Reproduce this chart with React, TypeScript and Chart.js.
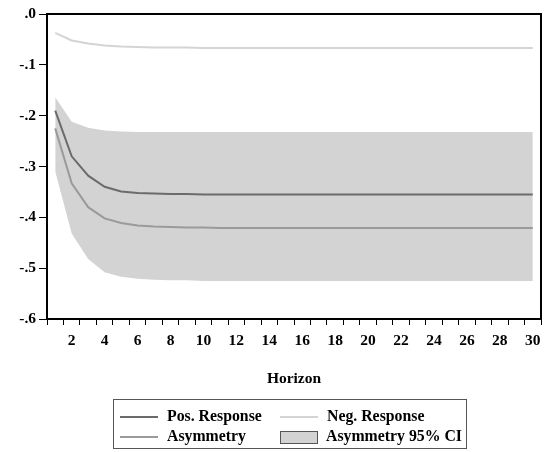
import React, { useEffect, useRef } from "react";
import { Chart, registerables } from "chart.js";

Chart.register(...registerables);

// Impulse-response horizons
const horizons: number[] = Array.from({ length: 30 }, (_, i) => i + 1);

const posResponse: number[] = [
  -0.19, -0.28, -0.318, -0.34, -0.349, -0.352, -0.353, -0.354, -0.354, -0.355,
  -0.355, -0.355, -0.355, -0.355, -0.355, -0.355, -0.355, -0.355, -0.355, -0.355,
  -0.355, -0.355, -0.355, -0.355, -0.355, -0.355, -0.355, -0.355, -0.355, -0.355,
];

const negResponse: number[] = [
  -0.037, -0.052, -0.058, -0.062, -0.064, -0.065, -0.066, -0.066, -0.066, -0.067,
  -0.067, -0.067, -0.067, -0.067, -0.067, -0.067, -0.067, -0.067, -0.067, -0.067,
  -0.067, -0.067, -0.067, -0.067, -0.067, -0.067, -0.067, -0.067, -0.067, -0.067,
];

const asymmetry: number[] = [
  -0.225, -0.333, -0.38, -0.402, -0.411, -0.416, -0.418, -0.419, -0.42, -0.42,
  -0.421, -0.421, -0.421, -0.421, -0.421, -0.421, -0.421, -0.421, -0.421, -0.421,
  -0.421, -0.421, -0.421, -0.421, -0.421, -0.421, -0.421, -0.421, -0.421, -0.421,
];

const ciUpper: number[] = [
  -0.164, -0.212, -0.224, -0.229, -0.231, -0.232, -0.232, -0.232, -0.232, -0.232,
  -0.232, -0.232, -0.232, -0.232, -0.232, -0.232, -0.232, -0.232, -0.232, -0.232,
  -0.232, -0.232, -0.232, -0.232, -0.232, -0.232, -0.232, -0.232, -0.232, -0.232,
];

const ciLower: number[] = [
  -0.31, -0.432, -0.482, -0.508, -0.517, -0.521, -0.523, -0.524, -0.524, -0.525,
  -0.525, -0.525, -0.525, -0.525, -0.525, -0.525, -0.525, -0.525, -0.525, -0.525,
  -0.525, -0.525, -0.525, -0.525, -0.525, -0.525, -0.525, -0.525, -0.525, -0.525,
];

const FONT_FAMILY = "'Liberation Serif', 'Times New Roman', serif";
const POS_COLOR = "#6b6b6b";
const NEG_COLOR = "#d4d4d4";
const ASYM_COLOR = "#9a9a9a";
const CI_COLOR = "#d3d3d3";

const W = 550;
const H = 452;

// Frame around the plotting area
const framePlugin = {
  id: "frame",
  afterDraw(chart: any) {
    const { ctx, chartArea } = chart;
    ctx.save();
    ctx.strokeStyle = "#000";
    ctx.lineWidth = 2;
    ctx.strokeRect(
      chartArea.left,
      chartArea.top,
      chartArea.right - chartArea.left,
      chartArea.bottom - chartArea.top
    );
    ctx.restore();
  },
};

function LegendLine({ color }: { color: string }) {
  return (
    <span
      style={{
        display: "inline-block",
        width: 38,
        height: 0,
        borderTop: `2px solid ${color}`,
        verticalAlign: "middle",
        marginRight: 9,
      }}
    />
  );
}

export default function App() {
  const canvasRef = useRef<HTMLCanvasElement | null>(null);

  useEffect(() => {
    if (!canvasRef.current) return;
    const chart = new Chart(canvasRef.current, {
      type: "line",
      data: {
        labels: horizons.map(String),
        datasets: [
          {
            label: "Pos. Response",
            data: posResponse,
            borderColor: POS_COLOR,
            borderWidth: 2,
            pointRadius: 0,
            tension: 0,
            fill: false,
          },
          {
            label: "Neg. Response",
            data: negResponse,
            borderColor: NEG_COLOR,
            borderWidth: 2,
            pointRadius: 0,
            tension: 0,
            fill: false,
          },
          {
            label: "Asymmetry",
            data: asymmetry,
            borderColor: ASYM_COLOR,
            borderWidth: 2,
            pointRadius: 0,
            tension: 0,
            fill: false,
          },
          {
            label: "Asymmetry 95% CI",
            data: ciUpper,
            borderColor: CI_COLOR,
            borderWidth: 0,
            backgroundColor: CI_COLOR,
            pointRadius: 0,
            tension: 0,
            fill: "+1",
          },
          {
            label: "CI lower",
            data: ciLower,
            borderColor: CI_COLOR,
            borderWidth: 0,
            pointRadius: 0,
            tension: 0,
            fill: false,
          },
        ],
      },
      options: {
        animation: false,
        responsive: false,
        maintainAspectRatio: false,
        layout: { padding: { left: 0, top: 14, right: 9, bottom: 0 } },
        plugins: {
          legend: { display: false },
          tooltip: { enabled: false },
          filler: { drawTime: "beforeDatasetsDraw" },
        } as any,
        scales: {
          x: {
            type: "category",
            offset: true,
            afterFit: (scale: any) => {
              scale.height = H - 319;
            },
            grid: {
              offset: true,
              drawOnChartArea: false,
              drawTicks: true,
              tickLength: 6,
              color: "#000",
              lineWidth: 1,
            },
            border: { display: true, color: "#000", width: 2 },
            ticks: {
              autoSkip: false,
              maxRotation: 0,
              minRotation: 0,
              padding: 7,
              color: "#000",
              font: { family: FONT_FAMILY, size: 15.5, weight: "bold" },
              callback: (_v: any, i: number) =>
                horizons[i] % 2 === 0 ? String(horizons[i]) : "",
            },
          },
          y: {
            min: -0.6,
            max: 0,
            afterFit: (scale: any) => {
              scale.width = 47;
            },
            grid: {
              drawOnChartArea: false,
              drawTicks: true,
              tickLength: 8,
              color: "#000",
            },
            border: { display: true, color: "#000", width: 2 },
            ticks: {
              stepSize: 0.1,
              padding: 3,
              color: "#000",
              font: { family: FONT_FAMILY, size: 15.5, weight: "bold" },
              callback: (v: any) => {
                const n = Math.round(Number(v) * 10);
                return n === 0 ? ".0" : "-." + Math.abs(n);
              },
            },
          },
        },
      } as any,
      plugins: [framePlugin],
    });
    return () => chart.destroy();
  }, []);

  const textStyle: React.CSSProperties = {
    fontFamily: FONT_FAMILY,
    fontWeight: "bold",
    fontSize: 15.8,
    color: "#000",
    whiteSpace: "nowrap",
  };

  return (
    <div
      style={{
        position: "absolute",
        left: 0,
        top: 0,
        width: W,
        height: H,
        background: "#fff",
        overflow: "hidden",
      }}
    >
      <canvas ref={canvasRef} width={W} height={H} style={{ display: "block" }} />
      <div
        style={{
          ...textStyle,
          fontSize: 15.5,
          position: "absolute",
          left: 47,
          width: 494,
          top: 369,
          textAlign: "center",
        }}
      >
        Horizon
      </div>
      <div
        style={{
          position: "absolute",
          left: 113,
          top: 399,
          width: 354,
          height: 50,
          border: "1px solid #555",
          boxSizing: "border-box",
        }}
      >
        <div style={{ ...textStyle, position: "absolute", left: 6, top: 6, lineHeight: "19px" }}>
          <LegendLine color={POS_COLOR} />
          Pos. Response
        </div>
        <div style={{ ...textStyle, position: "absolute", left: 166, top: 6, lineHeight: "19px" }}>
          <LegendLine color={NEG_COLOR} />
          Neg. Response
        </div>
        <div style={{ ...textStyle, position: "absolute", left: 6, top: 26, lineHeight: "19px" }}>
          <LegendLine color={ASYM_COLOR} />
          Asymmetry
        </div>
        <div style={{ ...textStyle, position: "absolute", left: 166, top: 26, lineHeight: "19px" }}>
          <span
            style={{
              display: "inline-block",
              width: 36,
              height: 11,
              background: CI_COLOR,
              border: "1px solid #555",
              verticalAlign: "middle",
              marginRight: 8,
            }}
          />
          Asymmetry 95% CI
        </div>
      </div>
    </div>
  );
}
